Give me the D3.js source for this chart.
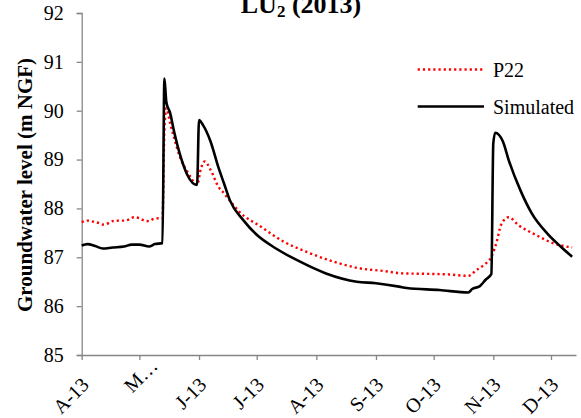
<!DOCTYPE html>
<html>
<head>
<meta charset="utf-8">
<script src="https://cdn.jsdelivr.net/npm/d3@7"></script>
<style>
  html, body { margin: 0; padding: 0; background: #fff; }
  svg { display: block; }
  svg text { font-family: "Liberation Serif", Tinos, "Times New Roman", Times, "DejaVu Serif", serif; }
</style>
</head>
<body>
<svg id="chart" width="581" height="418"></svg>
<script>
// ---- data ----
const simDates = ["2013-04-01","2013-04-04","2013-04-08","2013-04-12","2013-04-17","2013-04-23","2013-04-27","2013-05-01","2013-05-06","2013-05-09","2013-05-13","2013-05-14","2013-05-15","2013-05-17","2013-05-19","2013-05-23","2013-05-26","2013-05-31","2013-06-01","2013-06-03","2013-06-07","2013-06-11","2013-06-14","2013-06-17","2013-06-24","2013-07-01","2013-07-11","2013-07-22","2013-08-06","2013-08-22","2013-09-01","2013-09-13","2013-09-17","2013-10-04","2013-10-19","2013-10-21","2013-10-25","2013-10-28","2013-10-31","2013-11-01","2013-11-02","2013-11-06","2013-11-09","2013-11-15","2013-11-21","2013-11-29","2013-12-06","2013-12-12"];
const simValues = [87.24,87.27,87.23,87.18,87.20,87.22,87.26,87.26,87.22,87.27,87.29,90.66,90.18,89.95,89.58,88.99,88.68,88.48,89.81,89.71,89.37,88.85,88.51,88.17,87.76,87.46,87.18,86.94,86.67,86.50,86.47,86.40,86.37,86.33,86.28,86.35,86.41,86.54,86.66,89.33,89.55,89.37,88.99,88.38,87.90,87.49,87.22,87.01];

const p22Dates = ["2013-04-01","2013-04-04","2013-04-07","2013-04-10","2013-04-12","2013-04-15","2013-04-17","2013-04-20","2013-04-23","2013-04-26","2013-04-28","2013-05-01","2013-05-03","2013-05-06","2013-05-08","2013-05-11","2013-05-13","2013-05-14","2013-05-15","2013-05-17","2013-05-19","2013-05-22","2013-05-26","2013-05-30","2013-05-31","2013-06-02","2013-06-04","2013-06-07","2013-06-11","2013-06-14","2013-06-16","2013-06-22","2013-07-03","2013-07-15","2013-07-27","2013-08-10","2013-08-24","2013-09-05","2013-09-15","2013-09-29","2013-10-08","2013-10-19","2013-10-23","2013-10-27","2013-10-31","2013-11-03","2013-11-05","2013-11-09","2013-11-14","2013-11-23","2013-12-02","2013-12-12"];
const p22Values = [87.72,87.75,87.73,87.70,87.67,87.70,87.74,87.75,87.75,87.78,87.82,87.80,87.76,87.74,87.78,87.80,87.80,89.60,90.05,89.74,89.45,89.06,88.75,88.51,88.48,88.82,88.96,88.79,88.45,88.31,88.21,87.93,87.63,87.32,87.11,86.91,86.77,86.72,86.67,86.66,86.65,86.62,86.73,86.84,87.01,87.35,87.66,87.82,87.66,87.46,87.29,87.20];

const xDomain = ["2013-04-01","2013-12-14"];
const tickDates = ["2013-04-01","2013-05-01","2013-06-01","2013-07-01","2013-08-01","2013-09-01","2013-10-01","2013-11-01","2013-12-01"];
const tickLabels = ["A-13","M\u2026","J-13","J-13","A-13","S-13","O-13","N-13","D-13"];
const yTicks = [85,86,87,88,89,90,91,92];
const seriesNames = ["P22","Simulated"];

// ---- chart ----
const parse = d3.utcParse("%Y-%m-%d");
const svg = d3.select("#chart");
const axisColor = "#868686";
const serif = '"Liberation Serif", Tinos, "Times New Roman", Times, "DejaVu Serif", serif';

const x = d3.scaleUtc().domain(xDomain.map(parse)).range([81.7, 576]);
const y = d3.scaleLinear().domain([85, 92]).range([355, 13]);

// Y axis
const yAxis = svg.append("g")
  .attr("transform", "translate(81.7,0)")
  .call(d3.axisLeft(y).tickValues(yTicks).tickSize(5).tickPadding(13).tickFormat(d3.format("d")));
yAxis.attr("font-family", serif);
yAxis.select(".domain").attr("stroke", axisColor).attr("stroke-width", 1.3);
yAxis.selectAll(".tick line").attr("stroke", axisColor).attr("stroke-width", 1.3);
yAxis.selectAll(".tick text").attr("font-size", 20).attr("fill", "#000");

// X axis
const xAxis = svg.append("g")
  .attr("transform", "translate(0,355)")
  .call(d3.axisBottom(x).tickValues(tickDates.map(parse)).tickSize(5).tickSizeOuter(0)
    .tickFormat((d, i) => tickLabels[i]));
xAxis.attr("font-family", serif);
xAxis.select(".domain").attr("stroke", axisColor).attr("stroke-width", 1.3);
xAxis.selectAll(".tick line").attr("stroke", axisColor).attr("stroke-width", 1.3);
xAxis.selectAll(".tick text")
  .attr("font-size", 20).attr("fill", "#000")
  .attr("text-anchor", "end")
  .attr("dy", 0)
  .attr("y", 0)
  .attr("transform", (d, i) => i === 1 ? "translate(19,12) rotate(-45)" : "translate(8,31) rotate(-45)");

// Lines
const line = d3.line().curve(d3.curveMonotoneX).x(d => x(d[0])).y(d => y(d[1]));
const p22 = p22Dates.map((d, i) => [parse(d), p22Values[i]]);
const sim = simDates.map((d, i) => [parse(d), simValues[i]]);

svg.append("path").datum(p22)
  .attr("fill", "none").attr("stroke", "#ff0000").attr("stroke-width", 2.4)
  .attr("stroke-dasharray", "2.2 3").attr("d", line);
svg.append("path").datum(sim)
  .attr("fill", "none").attr("stroke", "#000").attr("stroke-width", 2.6)
  .attr("stroke-linejoin", "round").attr("d", line);

// Legend
const legend = svg.append("g").attr("font-family", serif);
const legY = [69.5, 106.5];
legend.append("line").attr("x1", 417.7).attr("x2", 484).attr("y1", legY[0]).attr("y2", legY[0])
  .attr("stroke", "#ff0000").attr("stroke-width", 2.4).attr("stroke-dasharray", "2.2 3");
legend.append("line").attr("x1", 417.7).attr("x2", 484).attr("y1", legY[1]).attr("y2", legY[1])
  .attr("stroke", "#000").attr("stroke-width", 2.6);
seriesNames.forEach((n, i) => {
  legend.append("text").attr("x", 493).attr("y", legY[i] + 7).attr("font-size", 20)
    .attr("fill", "#000").text(n);
});

// Title
const title = svg.append("text").attr("x", 301).attr("y", 13).attr("text-anchor", "middle")
  .attr("font-family", serif)
  .attr("font-size", 26).attr("font-weight", "bold").attr("fill", "#000");
title.append("tspan").text("LU");
title.append("tspan").attr("font-size", 17).attr("dy", 4).text("2");
title.append("tspan").attr("dy", -4).text(" (2013)");

// Y title
svg.append("text")
  .attr("transform", "translate(31.5,185) rotate(-90)")
  .attr("font-family", serif)
  .attr("text-anchor", "middle").attr("font-size", 21).attr("font-weight", "bold")
  .attr("fill", "#000").text("Groundwater level (m NGF)");
</script>
</body>
</html>
